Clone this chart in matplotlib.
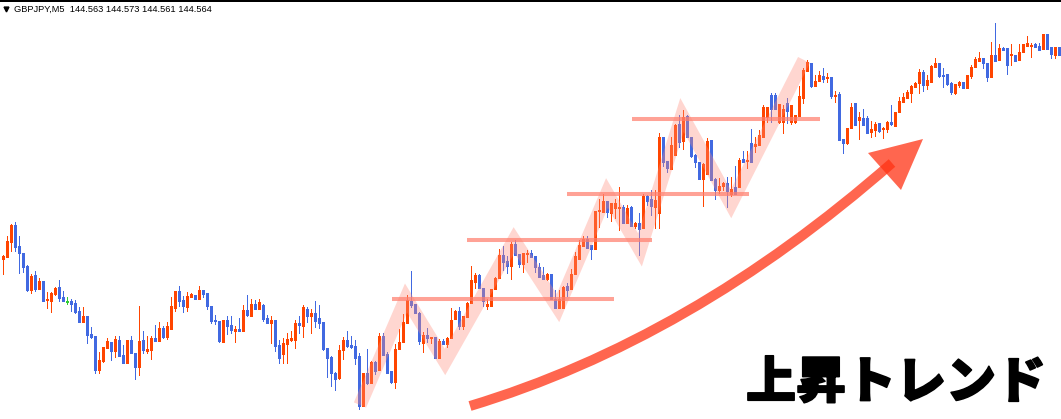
import matplotlib
matplotlib.use("Agg")
import matplotlib.pyplot as plt
from matplotlib.path import Path
from matplotlib.patches import PathPatch, Polygon
import matplotlib.patheffects as pe
import numpy as np

# ---- data (price levels, screen-level units, larger = lower) ----
# each candle: direction, body top, body bottom, high, low
dirs = list(
    "OOOBBBBOBOBOOOBBGBBBOBBBOOOBOBBOBBOBOOBOBOOOBBOOBO"
    "BBBBBOBBOBOBOBOBBOBBOOOOBOBOBBBBBBOOBBBBOBOBOBBBOO"
    "OOBBBOBOBOBOOOBOOOOBBOOOOBBOBBOOBBBBOBBOOBOOOOBBOO"
    "OBOOOBOBOBOBBOOBBOOBOBBBBOOBBOOBOBOBOBOOOOBBOOBOOO"
    "OOBOOBOBOBBOOBOBBOOBOOBOOOOOOOBOOOBBBBOOBOOOOBBOBO"
    "BBOBOOOOBBOBBOB"
)
body_top = [256,241,225,225,246,253,266,276,275,281,281,299,293,288,287,297,301,301,303,311,
            316,316,334,336,360,347,341,342,339,340,355,340,340,353,341,340,349,338,338,328,
            328,326,306,291,291,300,296,294,295,290,290,293,306,320,321,320,320,325,329,329,
            310,310,304,304,302,305,318,320,320,345,343,339,338,323,323,307,309,313,313,318,
            322,348,357,373,350,340,340,345,346,356,373,373,362,362,336,336,354,371,349,342,
            322,300,301,304,313,335,335,337,337,341,341,338,320,311,311,316,303,280,275,275,
            288,304,289,278,255,255,261,244,244,254,253,253,253,256,267,275,274,274,299,299,
            287,286,274,256,245,239,239,245,211,210,201,201,203,203,207,207,208,207,223,223,
            196,196,199,200,137,137,161,145,125,124,117,116,137,155,162,164,141,140,179,186,
            183,183,189,187,160,159,160,143,144,135,107,107,95,95,104,109,103,105,115,96,
            70,62,63,81,75,76,77,77,95,94,139,128,107,103,117,118,118,129,124,123,
            128,122,122,112,101,97,92,86,83,72,72,80,66,63,63,75,74,83,84,82,
            82,75,67,59,58,58,63,55,55,48,48,48,54,55,52,44,43,45,44,46,
            34,34,47,47,47]
body_bot = [259,257,242,247,253,267,290,290,289,289,301,300,301,294,298,301,301,304,312,322,
            322,335,337,370,370,361,348,351,351,356,363,363,353,367,367,350,351,350,341,341,
            337,337,329,308,301,306,307,297,299,299,294,306,321,321,341,342,326,330,331,331,
            331,315,316,309,309,319,323,323,346,358,354,344,340,340,325,326,316,316,321,323,
            349,358,373,379,378,350,346,347,358,406,406,383,383,371,370,355,373,382,382,349,
            342,323,305,313,341,343,338,338,358,358,344,344,338,319,326,326,317,303,282,288,
            301,306,306,289,278,262,266,266,255,264,264,254,257,267,277,279,279,299,308,308,
            308,290,289,274,259,246,248,249,249,211,212,212,213,208,208,223,223,226,226,229,
            228,201,206,207,213,162,168,169,155,142,141,137,156,162,179,179,174,180,190,190,
            186,191,194,194,187,162,161,162,146,145,137,117,109,109,122,122,111,122,122,116,
            98,71,86,86,81,79,78,96,96,140,143,143,128,125,120,125,133,132,130,131,
            129,129,124,126,112,102,98,93,87,83,85,85,82,67,76,76,84,92,93,85,
            88,88,76,67,61,63,77,77,61,60,50,65,55,61,60,52,46,46,47,50,
            49,49,54,55,55]
highs = [255,236,224,222,236,253,265,274,271,278,281,292,292,287,280,291,297,299,300,307,
         307,316,327,336,352,347,338,342,336,336,345,340,336,353,306,331,336,336,325,322,
         326,322,297,291,286,296,292,293,295,286,290,293,306,315,321,320,316,316,326,318,
         305,295,299,300,299,304,315,316,320,340,338,333,331,320,316,305,307,309,301,305,
         322,348,356,372,345,337,331,336,340,353,373,349,361,361,333,333,352,371,344,329,
         314,295,271,304,312,332,328,337,337,339,339,337,308,310,307,316,302,266,273,274,
         288,299,289,277,249,246,256,242,240,254,253,250,250,256,263,267,273,274,290,290,
         286,283,269,252,240,236,236,245,211,199,194,201,203,199,187,205,205,206,222,213,
         194,195,190,190,133,137,161,137,124,115,110,115,137,154,162,163,138,140,178,178,
         182,177,177,166,158,151,151,129,137,130,105,107,93,93,104,105,98,105,115,86,
         68,60,63,75,71,68,73,77,91,92,139,128,103,103,112,109,116,121,122,123,
         127,121,105,112,97,93,90,85,82,69,70,75,65,58,63,68,74,82,84,81,
         82,75,65,57,52,58,63,42,23,44,47,48,44,55,44,44,36,43,43,43,
         34,34,47,47,47]
lows = [274,257,251,251,273,272,291,293,291,289,301,308,312,295,301,301,304,311,313,322,
        322,343,338,373,373,362,348,360,357,356,363,363,353,379,375,353,353,359,341,341,
        338,339,329,311,306,312,311,297,299,299,297,309,323,324,342,342,334,333,342,331,
        331,316,316,309,309,321,323,343,351,363,363,363,341,348,333,337,322,333,327,328,
        350,377,386,390,379,359,347,348,364,409,406,384,383,374,370,355,373,383,388,349,
        342,323,307,313,344,352,342,343,358,358,344,347,338,319,329,329,317,303,288,288,
        306,309,306,289,278,270,273,279,255,267,272,262,257,272,277,279,280,299,308,308,
        308,296,289,274,259,246,248,259,249,227,212,217,221,218,230,223,223,226,228,255,
        228,205,215,228,228,166,172,169,155,147,149,137,157,167,179,206,174,180,199,193,
        190,207,196,194,187,162,168,162,152,145,137,122,122,109,123,133,123,124,123,116,
        103,71,87,86,81,82,82,98,102,140,153,144,128,125,139,125,133,137,136,132,
        138,132,125,126,112,102,98,102,87,93,91,89,82,67,77,87,85,94,94,87,
        88,88,78,67,61,68,81,77,61,60,50,74,65,61,60,52,46,57,47,50,
        49,49,58,58,55]

# zig-zag swing path (candle index, level)
swing_idx = [89.25, 100.75, 110.5, 127.75, 138.75, 151.0, 159.25, 169.75, 182.0, 200.25]
swing_lvl = [405, 298, 362, 240, 308, 193, 250, 115, 204, 60]

# horizontal support / resistance levels
hl_level = [298.5, 240, 194, 119]
hl_start = [97.25, 116.0, 141.0, 157.25]
hl_end = [152.75, 162.25, 186.5, 204.25]

header = "GBPJPY,M5  144.563 144.573 144.561 144.564"
title_jp = "上昇トレンド"

# ---- figure ----
W, H = 1061, 419
fig = plt.figure(figsize=(W / 100, H / 100), dpi=100)
ax = fig.add_axes([0, 0, 1, 1])
ax.set_xlim(-0.75, 264.5)
ax.set_ylim(H, 0)
ax.axis("off")

n = len(body_top)
x = np.arange(n)
top = np.array(body_top, float)
bot = np.array(body_bot, float)
hi = np.array(highs, float)
lo = np.array(lows, float)
cmap = {"O": "#FF4500", "B": "#4169E1", "G": "#32CD32"}
cols = [cmap[d] for d in dirs[:n]]

ax.vlines(x, hi, lo, colors=cols, linewidth=0.72, antialiased=False, zorder=2)
bb = top + np.maximum(bot - top, 1.0)
ax.vlines(x, top, bb, colors=cols, linewidth=1.9, antialiased=False, zorder=3)

# swing band
ax.plot(swing_idx, swing_lvl, color="#FF8A7A", alpha=0.35, linewidth=9.6,
        solid_capstyle="butt", solid_joinstyle="miter", zorder=4)

# horizontal lines
for lv, s, e in zip(hl_level, hl_start, hl_end):
    ax.plot([s, e], [lv, lv], color="#FF7F6E", alpha=0.72, linewidth=2.9,
            solid_capstyle="butt", zorder=5)

# ---- overlay in pixel space for annotations ----
ov = fig.add_axes([0, 0, 1, 1])
ov.set_xlim(0, W)
ov.set_ylim(H, 0)
ov.axis("off")
ov.patch.set_alpha(0)

# top border
ov.plot([0, W], [0.5, 0.5], color="black", linewidth=1.0, antialiased=False)

# header
ov.plot([6], [9.5], marker="v", color="black", markersize=3.5, linestyle="none")
ov.text(14, 9, header, fontsize=6.7, family="Liberation Sans", color="#000000",
        ha="left", va="center")

# big arrow
arrow_col = (1.0, 0.2, 0.08, 0.75)
verts = [(470, 406), (690, 340), (892, 163)]
shaft = Path(verts, [Path.MOVETO, Path.CURVE3, Path.CURVE3])
ov.add_patch(PathPatch(shaft, fill=False, edgecolor=arrow_col, linewidth=7.2,
                       capstyle="butt", zorder=6))
ov.add_patch(Polygon([(923, 139), (868, 153), (901, 190)], closed=True,
                     facecolor=arrow_col, edgecolor="none", zorder=6))

# big label
t = ov.text(746, 383, title_jp, fontsize=36, fontweight="black",
            family=["Noto Sans CJK JP", "DejaVu Sans"], color="black",
            ha="left", va="center", zorder=7)
t.set_path_effects([pe.withStroke(linewidth=1.2, foreground="black")])

fig.savefig("out.png", dpi=100)
